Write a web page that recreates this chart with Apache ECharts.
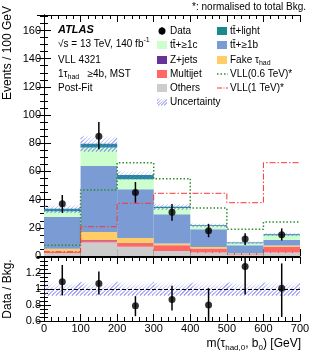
<!DOCTYPE html>
<html><head><meta charset="utf-8">
<script src="https://cdn.jsdelivr.net/npm/echarts@6/dist/echarts.min.js"></script>
<style>html,body{margin:0;padding:0;background:#fff}#c{width:317px;height:358px}</style>
</head><body><div id="c"></div>
<script>
// ---- data ----
const binEdges = [0, 100, 200, 300, 400, 500, 600, 700];
const categories = ['0-100', '100-200', '200-300', '300-400', '400-500', '500-600', '600-700'];
const xTicks = [0, 100, 200, 300, 400, 500, 600, 700];
const others   = [2.2, 9.5, 6.5, 3.5, 2.4, 1.0, 2.4];
const multijet = [0.8, 1.5, 2.5, 4.0, 2.8, 0.5, 4.0];
const zjets    = [0.2, 0.3, 0.3, 0.2, 0.1, 0.1, 0.1];
const fakeTau  = [2.0, 5.7, 3.5, 1.2, 1.1, 0.3, 0.9];
const ttB      = [22.4, 46.8, 34.5, 20.7, 12.6, 5.7, 4.0];
const ttC      = [4.2, 13.1, 7.2, 4.4, 2.3, 1.4, 3.3];
const ttLight  = [1.7, 2.8, 2.9, 1.0, 0.5, 0.5, 0.7];
const bkgUnc   = [3.3, 6.0, 3.5, 2.5, 1.5, 1.0, 1.3];
const vll06    = [7.6, 46.8, 66.2, 54.9, 34.0, 18.9, 24.1];
const vll1     = [3.0, 20.8, 37.4, 44.5, 44.5, 37.8, 66.2];
const dataVals = [37, 85, 45, 31, 18, 12, 15];
const dataUp   = [6.3, 10, 7.5, 5.9, 4.8, 4.2, 4.6];
const dataDn   = [6.4, 9.3, 7.1, 6.0, 4.7, 4.2, 4.0];
const ratioVals = [1.09, 1.07, 0.79, 0.87, 0.80, 1.28, 1.01];
const ratioUp   = [0.21, 0.15, 0.12, 0.17, 0.21, 0.2, 0.31];
const ratioDn   = [0.17, 0.14, 0.13, 0.14, 0.25, 0.35, 0.36];
const ratioUnc  = [0.09, 0.09, 0.09, 0.09, 0.09, 0.09, 0.09];

// ---- helpers ----
const HATCH_COL = '#7474f4';
// diagonal "/" stripes as thin filled polygons, clipped to the rectangle
function hatchLines(x0, yT, x1, yB, step, z) {
  step = step || 4;
  const w = 1.1;
  const out = [];
  const cStart = Math.ceil((x0 + yT) / step) * step;
  for (let c = cStart; c <= x1 + yB + w; c += step) {
    const xa = Math.max(x0, c - yB), xb = Math.min(x1, c - yT);
    if (xb > xa) {
      const ya = c - xa, yb = c - xb;
      out.push({ type: 'polygon', silent: true, z: z,
        shape: { points: [[xa, Math.max(yT, ya - w)], [xa, ya], [xb, yb], [Math.min(x1, xb + w), Math.max(yT, yb)], [xb, Math.max(yT, yb - w)]] },
        style: { fill: HATCH_COL, stroke: null } });
    }
  }
  return out;
}
const FONT = 'Liberation Sans, Arial, Helvetica, sans-serif';
const centers = binEdges.slice(0, -1).map((e, i) => (e + binEdges[i + 1]) / 2);
const totals = categories.map((_, i) => others[i] + multijet[i] + zjets[i] + fakeTau[i] + ttB[i] + ttC[i] + ttLight[i]);
function stepData(v) { const d = v.map((y, i) => [binEdges[i], y]); d.push([binEdges[binEdges.length - 1], v[v.length - 1]]); return d; }

const stackDefs = [
  ['Others', others, '#cccccc'],
  ['Multijet', multijet, '#ff6666'],
  ['Z+jets', zjets, '#663399'],
  ['Fake', fakeTau, '#ffcc66'],
  ['ttb', ttB, '#7b9bd4'],
  ['ttc', ttC, '#ccffcc'],
  ['ttlight', ttLight, '#1b8a8e']
];

const axLine = { show: true, lineStyle: { color: '#000', width: 1 } };
function valX(grid, pos, labels) {
  return { type: 'value', gridIndex: grid, position: pos, min: 0, max: 700, interval: 100,
    axisLine: axLine, splitLine: { show: false },
    axisTick: { show: true, inside: true, length: 7, lineStyle: { color: '#000' } },
    minorTick: { show: true, splitNumber: 5, length: 4, lineStyle: { color: '#000' } },
    axisLabel: labels ? { show: true, color: '#000', fontSize: 11, fontFamily: FONT, margin: 2 } : { show: false } };
}
function valY(grid, pos, min, max, interval, labels) {
  return { type: 'value', gridIndex: grid, position: pos, min: min, max: max, interval: interval,
    axisLine: axLine, splitLine: { show: false },
    axisTick: { show: true, inside: true, length: 7, lineStyle: { color: '#000' } },
    minorTick: { show: true, splitNumber: 4, length: 4, lineStyle: { color: '#000' } },
    axisLabel: labels ? { show: true, color: '#000', fontSize: 11, fontFamily: FONT, margin: 3, showMaxLabel: false } : { show: false } };
}

const series = [];
stackDefs.forEach(([n, arr, col]) => series.push({
  name: n, type: 'bar', stack: 'bkg', xAxisIndex: 0, yAxisIndex: 0, data: arr,
  barCategoryGap: '0%', itemStyle: { color: col }, z: 2, silent: true
}));
series.push({ type: 'line', xAxisIndex: 1, yAxisIndex: 0, step: 'end', symbol: 'none', z: 4, silent: true,
  data: stepData(vll06), lineStyle: { color: '#2e8b2e', width: 1.5, type: [1.5, 2] } });
series.push({ type: 'line', xAxisIndex: 1, yAxisIndex: 0, step: 'end', symbol: 'none', z: 4, silent: true,
  data: stepData(vll1), lineStyle: { color: '#ff3333', width: 1, type: [6, 2, 1.5, 2] } });
function errSeries(xi, yi, vals, up, dn) {
  return { type: 'custom', xAxisIndex: xi, yAxisIndex: yi, z: 5, clip: true, silent: true,
    data: vals.map((v, i) => [centers[i], v - dn[i], v + up[i]]),
    encode: { x: 0, y: [1, 2] },
    renderItem: (p, api) => {
      const a = api.coord([api.value(0), api.value(1)]);
      const b = api.coord([api.value(0), api.value(2)]);
      return { type: 'line', shape: { x1: a[0], y1: a[1], x2: b[0], y2: b[1] }, style: { stroke: '#000', lineWidth: 1.5 } };
    } };
}
series.push(errSeries(1, 0, dataVals, dataUp, dataDn));
series.push({ type: 'scatter', xAxisIndex: 1, yAxisIndex: 0, z: 6, symbolSize: 7, silent: true,
  itemStyle: { color: '#000' }, data: dataVals.map((v, i) => [centers[i], v]) });
series.push(errSeries(4, 2, ratioVals, ratioUp, ratioDn));
series.push({ type: 'scatter', xAxisIndex: 4, yAxisIndex: 2, z: 6, symbolSize: 7, silent: true,
  itemStyle: { color: '#000' }, data: ratioVals.map((v, i) => [centers[i], v]),
  markLine: { silent: true, symbol: 'none', label: { show: false }, animation: false,
    lineStyle: { color: '#000', type: [4, 2], width: 1 }, data: [{ yAxis: 1 }] } });

// ---- text / legend graphics ----
const base = { fill: '#000', fontFamily: FONT, fontSize: 10 };
const rich = {
  a: { fontFamily: FONT, fontSize: 10, lineHeight: 14, verticalAlign: 'middle', fill: '#000' },
  s: { fontFamily: FONT, fontSize: 7, lineHeight: 7, verticalAlign: 'bottom', fill: '#000' },
  u: { fontFamily: FONT, fontSize: 7, lineHeight: 7, verticalAlign: 'top', fill: '#000' },
  A: { fontFamily: FONT, fontSize: 12, lineHeight: 16, verticalAlign: 'middle', fill: '#000' },
  S: { fontFamily: FONT, fontSize: 8, lineHeight: 8, verticalAlign: 'bottom', fill: '#000' }
};
function txt(x, y, text, extra) {
  return { type: 'text', x: x, y: y, z: 100, silent: true,
    style: Object.assign({ text: text, rich: rich, textVerticalAlign: 'middle' }, base, extra || {}) };
}
const g = [];
g.push(txt(306, 7, '*: normalised to total Bkg.', { textAlign: 'right' }));
g.push(txt(58, 30, 'ATLAS', { fontWeight: 'bold', fontStyle: 'italic', fontSize: 11 }));
g.push(txt(58, 44, '{a|\u221As = 13 TeV, 140 fb}{u|-1}'));
g.push(txt(58, 60, 'VLL 4321'));
g.push(txt(58, 74, '{a|1\u03C4}{s|had}{a|   \u22654b, MST}'));
g.push(txt(58, 88, 'Post-Fit'));
const c1b = 157, c1t = 170, c2b = 217, c2t = 230;
const rows = [31, 45, 60, 74, 88, 102];
function box(x, y, col) { return { type: 'rect', z: 100, silent: true, shape: { x: x, y: y - 4, width: 10, height: 8 }, style: { fill: col } }; }
g.push({ type: 'circle', z: 100, silent: true, shape: { cx: 162, cy: rows[0], r: 3.5 }, style: { fill: '#000' } });
g.push({ type: 'line', z: 100, silent: true, shape: { x1: 162, y1: rows[0] - 4, x2: 162, y2: rows[0] + 4 }, style: { stroke: '#000', lineWidth: 1 } });
g.push(txt(c1t, rows[0], 'Data'));
g.push(box(c1b, rows[1], '#ccffcc')); g.push(txt(c1t, rows[1], 'tt\u0304+\u22651c'));
g.push(box(c1b, rows[2], '#663399')); g.push(txt(c1t, rows[2], 'Z+jets'));
g.push(box(c1b, rows[3], '#ff6666')); g.push(txt(c1t, rows[3], 'Multijet'));
g.push(box(c1b, rows[4], '#cccccc')); g.push(txt(c1t, rows[4], 'Others'));
g.push({ type: 'group', z: 100, silent: true, children: hatchLines(c1b, rows[5] - 4, c1b + 10, rows[5] + 4, 3, 100) });
g.push(txt(c1t, rows[5], 'Uncertainty'));
g.push(box(c2b, rows[0], '#1b8a8e')); g.push(txt(c2t, rows[0], 'tt\u0304+light'));
g.push(box(c2b, rows[1], '#7b9bd4')); g.push(txt(c2t, rows[1], 'tt\u0304+\u22651b'));
g.push(box(c2b, rows[2], '#ffcc66')); g.push(txt(c2t, rows[2], '{a|Fake \u03C4}{s|had}'));
g.push({ type: 'line', z: 100, silent: true, shape: { x1: c2b, y1: rows[3], x2: c2b + 11, y2: rows[3] }, style: { stroke: '#2e8b2e', lineWidth: 1.5, lineDash: [1.5, 2] } });
g.push(txt(c2t, rows[3], 'VLL(0.6 TeV)*'));
g.push({ type: 'line', z: 100, silent: true, shape: { x1: c2b, y1: rows[4], x2: c2b + 11, y2: rows[4] }, style: { stroke: '#ff3333', lineWidth: 1, lineDash: [5, 1.5, 1, 1.5] } });
g.push(txt(c2t, rows[4], 'VLL(1 TeV)*'));
g.push({ type: 'text', x: 8, y: 53, rotation: Math.PI / 2, z: 100, silent: true,
  style: Object.assign({ text: 'Events / 100 GeV', textAlign: 'center', textVerticalAlign: 'middle' }, base, { fontSize: 12 }) });
g.push({ type: 'text', x: 8, y: 289, rotation: Math.PI / 2, z: 100, silent: true,
  style: Object.assign({ text: 'Data / Bkg.', textAlign: 'center', textVerticalAlign: 'middle' }, base, { fontSize: 12 }) });
g.push(txt(301, 344, '{A|m(\u03C4}{S|had,0}{A|, b}{S|0}{A|) [GeV]}', { textAlign: 'right' }));

const option = {
  animation: false,
  backgroundColor: '#fff',
  grid: [
    { left: 44, top: 15, width: 256, height: 241, show: false },
    { left: 44, top: 257, width: 256, height: 64, show: false }
  ],
  xAxis: [
    { type: 'category', gridIndex: 0, data: categories, show: false, boundaryGap: true },
    valX(0, 'bottom', false),
    valX(0, 'top', false),
    { type: 'category', gridIndex: 1, data: categories, show: false, boundaryGap: true },
    valX(1, 'bottom', true),
    valX(1, 'top', false)
  ],
  yAxis: [
    valY(0, 'left', 0, 171, 20, true),
    valY(0, 'right', 0, 171, 20, false),
    valY(1, 'left', 0.6, 1.4, 0.2, true),
    valY(1, 'right', 0.6, 1.4, 0.2, false)
  ],
  series: series
};
const chart = echarts.init(document.getElementById('c'), null, { renderer: 'canvas' });
chart.setOption(option);

// uncertainty bands (main + ratio) placed through the chart's own axis scales
const bands = [];
categories.forEach((_, i) => {
  const a = chart.convertToPixel({ xAxisIndex: 1, yAxisIndex: 0 }, [binEdges[i], totals[i] + bkgUnc[i]]);
  const b = chart.convertToPixel({ xAxisIndex: 1, yAxisIndex: 0 }, [binEdges[i + 1], totals[i] - bkgUnc[i]]);
  bands.push(...hatchLines(a[0], a[1], b[0], b[1], 4, 3));
  const c = chart.convertToPixel({ xAxisIndex: 4, yAxisIndex: 2 }, [binEdges[i], 1 + ratioUnc[i]]);
  const d = chart.convertToPixel({ xAxisIndex: 4, yAxisIndex: 2 }, [binEdges[i + 1], 1 - ratioUnc[i]]);
  bands.push(...hatchLines(c[0], c[1], d[0], d[1], 4, 3));
});
chart.setOption({ graphic: g.concat(bands) });
</script></body></html>
